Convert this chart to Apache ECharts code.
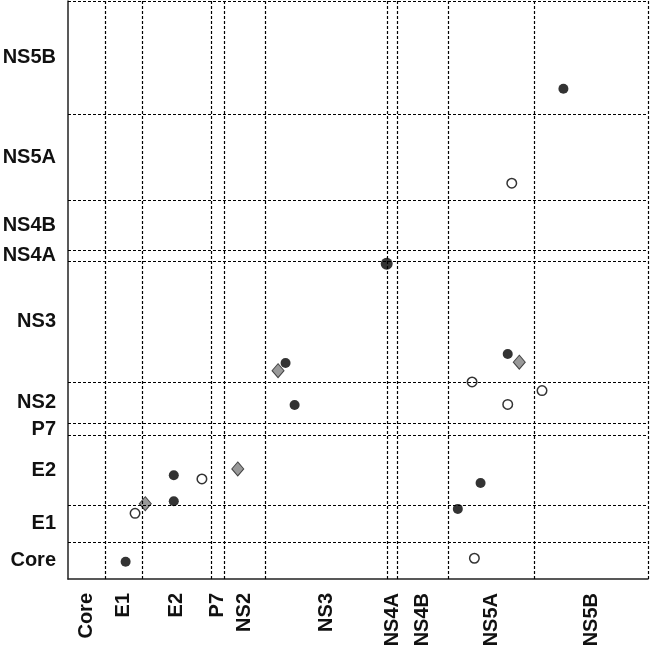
<!DOCTYPE html>
<html>
<head>
<meta charset="utf-8">
<script src="https://cdn.jsdelivr.net/npm/echarts@6/dist/echarts.min.js"></script>
<style>html,body{margin:0;padding:0;background:#fff;}#c{width:650px;height:645px;}</style>
</head>
<body>
<div id="c"></div>
<script>
// HCV polyprotein regions (amino-acid end positions)
var regions = ['Core','E1','E2','P7','NS2','NS3','NS4A','NS4B','NS5A','NS5B'];
var regionEnds = [191, 383, 746, 809, 1026, 1657, 1711, 1972, 2419, 3010];

// [x position, y position]
var filledPoints = [
  [2571, 2553], [1129, 1125], [1176, 906], [2282, 1172],
  [549, 540], [549, 405], [2141, 500], [2023, 365], [299, 90]
];
var bigPoints = [[1654, 1642]];
var openPoints = [
  [2303, 2061], [2097, 1026], [2460, 981], [2282, 909],
  [695, 521], [348, 342], [2109, 108]
];
var diamondPoints = [[1090, 1085], [2342, 1129], [881, 573], [401, 392]];

var mids = regionEnds.map(function (e, i) { var s = i === 0 ? 0 : regionEnds[i - 1]; return (s + e) / 2; });
function nameFor(v) {
  var best = 0, bd = 1e9;
  mids.forEach(function (m, i) { var d = Math.abs(m - v); if (d < bd) { bd = d; best = i; } });
  return regions[best];
}
var dash = { type: [3, 2], color: '#000', width: 1.2 };
var boundaryLines = [];
regionEnds.forEach(function (e) { boundaryLines.push({ xAxis: e }); boundaryLines.push({ yAxis: e }); });

var labelFont = { fontFamily: 'Liberation Sans, Arial, sans-serif', fontWeight: 'bold', fontSize: 20, color: '#111' };

var chart = echarts.init(document.getElementById('c'), null, { renderer: 'canvas' });
chart.setOption({
  animation: false,
  grid: { left: 68, right: 2, top: 1, bottom: 66, containLabel: false, outerBoundsMode: 'none' },
  xAxis: {
    type: 'value', min: 0, max: 3010,
    axisLine: { show: true, lineStyle: { color: '#222', width: 1.5 } },
    axisTick: { show: false },
    splitLine: { show: false },
    axisLabel: Object.assign({ customValues: mids, rotate: 90, margin: 14, formatter: function (v) { return nameFor(v); } }, labelFont)
  },
  yAxis: {
    type: 'value', min: 0, max: 3010,
    axisLine: { show: true, lineStyle: { color: '#222', width: 1.5 } },
    axisTick: { show: false },
    splitLine: { show: false },
    axisLabel: Object.assign({ customValues: mids, margin: 12, formatter: function (v) { return nameFor(v); } }, labelFont)
  },
  series: [
    {
      type: 'scatter', data: [], silent: true,
      markLine: { silent: true, symbol: ['none', 'none'], label: { show: false }, lineStyle: dash, data: boundaryLines }
    },
    { type: 'scatter', data: filledPoints, symbol: 'circle', symbolSize: 10, itemStyle: { color: '#000' } },
    { type: 'scatter', data: bigPoints, symbol: 'circle', symbolSize: 12, itemStyle: { color: '#000' } },
    { type: 'scatter', data: openPoints, symbol: 'circle', symbolSize: 9.5, itemStyle: { color: '#fff', borderColor: '#000', borderWidth: 1.5 } },
    { type: 'scatter', data: diamondPoints, symbol: 'diamond', symbolSize: [12, 14], itemStyle: { color: '#808080', borderColor: '#222', borderWidth: 1 } }
  ]
});
</script>
</body>
</html>
